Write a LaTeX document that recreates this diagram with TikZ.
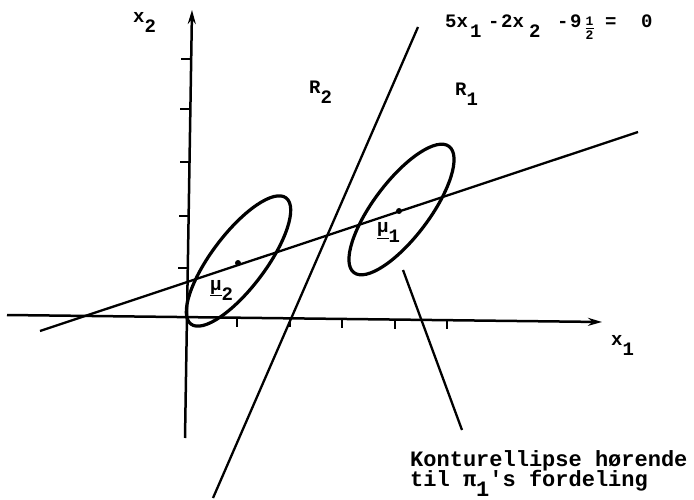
\documentclass[tikz,border=0pt]{standalone}
\usepackage{fontspec}
\usetikzlibrary{arrows.meta}
\newfontfamily\tw{Liberation Mono}
\newcommand\lsub[1]{\raisebox{-10pt}{#1}}
\newcommand\halffrac{\vbox{\hbox{1}\kern2.5pt\hrule height 1.3pt width 7.8pt\kern2.5pt\hbox{2}}}
\tikzset{
  axisline/.style={line width=2.5pt, -{Stealth[length=14pt,width=8pt]}},
  tickmark/.style={line width=2.2pt},
  bline/.style={line width=2.3pt},
  contour/.style={line width=3.2pt},
  lab/.style={inner sep=0pt, anchor=base west, font=\tw\bfseries\fontsize{19}{20}\selectfont},
  small/.style={inner sep=0pt, anchor=base west, font=\tw\bfseries\fontsize{13}{13}\selectfont},
  note/.style={inner sep=0pt, anchor=base west, font=\tw\bfseries\fontsize{22}{20}\selectfont},
  meanpt/.style={fill, circle, inner sep=0pt, minimum size=6pt},
}
\begin{document}
\begin{tikzpicture}[x=1pt,y=-1pt]
\useasboundingbox (0,0) rectangle (694,500);
% axes
\coordinate (xa0) at (7,315);
\coordinate (xa1) at (602,322);
\coordinate (ya0) at (185,438);
\coordinate (ya1) at (192,10);
\draw[axisline] (xa0) -- (xa1);
\draw[axisline] (ya0) -- (ya1);
\foreach \x in {237,290,342,395,447}
  \draw[tickmark] (\x,{315+(\x-7)*7/595}) -- ++(0,9);
\foreach \y in {59,109,162,216,268}
  \draw[tickmark] ({185+(438-\y)*7/428},\y) -- ++(-10,0);
% lines
\coordinate (b0) at (213,498);
\coordinate (b1) at (418,27);
\draw[bline] (b0) -- (b1);
\coordinate (m0) at (40,331);
\coordinate (m1) at (638,132);
\draw[bline] (m0) -- (m1);
% ellipses
\begin{scope}[shift={(238.5,261)}, rotate=53]
  \draw[contour] (0,0) ellipse [x radius=79, y radius=27];
\end{scope}
\begin{scope}[shift={(401.5,209.5)}, rotate=53]
  \draw[contour] (0,0) ellipse [x radius=79, y radius=28];
\end{scope}
\node[meanpt] (mu2) at (238,263) {};
\node[meanpt] (mu1) at (399,211) {};
% pointer
\coordinate (p0) at (403,270);
\coordinate (p1) at (462,430);
\draw[bline] (p0) -- (p1);
% labels
\node[lab] (lx2) at (133,23) {x\lsub{2}};
\node[lab] (lx1) at (611,345) {x\lsub{1}};
\node[lab] (lr2) at (309,94) {R\lsub{2}};
\node[lab] (lr1) at (455,96) {R\lsub{1}};
\node[lab] (lmu2) at (210,290) {\underline{μ}\lsub{2}};
\node[lab] (lmu1) at (377,233) {\underline{μ}\lsub{1}};
% equation
\node[lab] (e1) at (445,28) {5x};
\node[lab] (e2) at (470,38) {1};
\node[lab] (e3) at (488,28) {-};
\node[lab] (e4) at (501,28) {2x};
\node[lab] (e5) at (529,38) {2};
\node[lab] (e6) at (557,28) {-};
\node[lab] (e7) at (570,28) {9};
\node[small] (e8) at (585.5,40) {\halffrac};
\node[lab] (e10) at (605,28) {=};
\node[lab] (e11) at (641,28) {0};
% note
\node[note] (n1) at (410,466) {Konturellipse hørende};
\node[note] (n2) at (410,486) {til π\lsub{1}'s fordeling};
\end{tikzpicture}
\end{document}
